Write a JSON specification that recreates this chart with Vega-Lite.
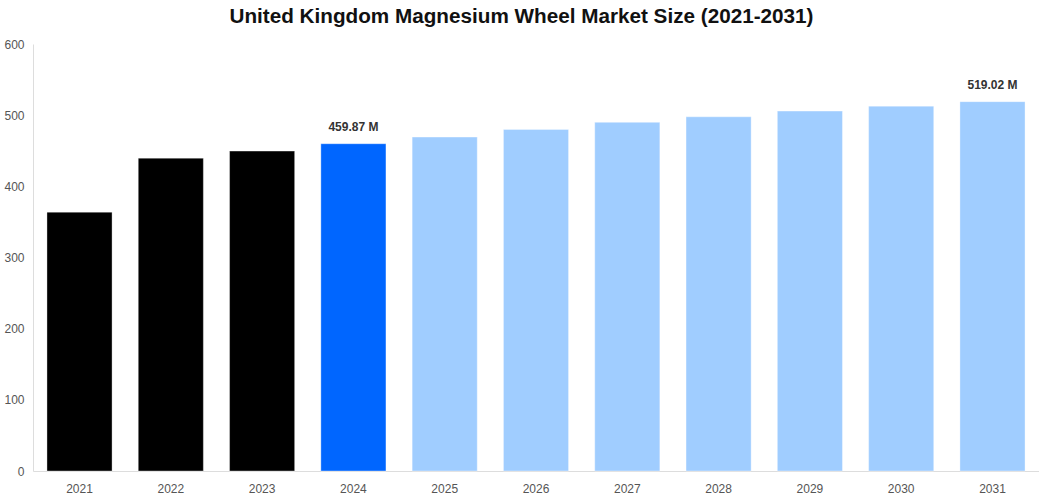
{
  "$schema": "https://vega.github.io/schema/vega-lite/v6.json",
  "width": 1039,
  "height": 500,
  "autosize": {"type": "fit", "contains": "padding"},
  "padding": {"left": 3, "top": 6, "right": 0, "bottom": 6},
  "background": "white",
  "title": {
    "text": "United Kingdom Magnesium Wheel Market Size (2021-2031)",
    "font": "Liberation Sans",
    "fontSize": 20.7,
    "fontWeight": "bold",
    "color": "#111111",
    "offset": 10,
    "frame": "bounds"
  },
  "data": {
    "values": [
      {"year": "2021", "value": 363.7, "kind": "Historical", "label": ""},
      {"year": "2022", "value": 439.6, "kind": "Historical", "label": ""},
      {"year": "2023", "value": 449.5, "kind": "Historical", "label": ""},
      {"year": "2024", "value": 459.87, "kind": "Current", "label": "459.87 M"},
      {"year": "2025", "value": 469.2, "kind": "Forecast", "label": ""},
      {"year": "2026", "value": 480.0, "kind": "Forecast", "label": ""},
      {"year": "2027", "value": 489.9, "kind": "Forecast", "label": ""},
      {"year": "2028", "value": 497.7, "kind": "Forecast", "label": ""},
      {"year": "2029", "value": 505.7, "kind": "Forecast", "label": ""},
      {"year": "2030", "value": 512.7, "kind": "Forecast", "label": ""},
      {"year": "2031", "value": 519.02, "kind": "Forecast", "label": "519.02 M"}
    ]
  },
  "config": {
    "view": {"stroke": null},
    "font": "Liberation Sans"
  },
  "encoding": {
    "x": {
      "field": "year",
      "type": "ordinal",
      "title": null,
      "scale": {"paddingInner": 0.287, "paddingOuter": 0.153},
      "axis": {
        "labelAngle": 0,
        "labelColor": "#555555",
        "labelFontSize": 12,
        "labelPadding": 12,
        "ticks": false,
        "domainColor": "#dddddd",
        "grid": false
      }
    },
    "y": {
      "field": "value",
      "type": "quantitative",
      "title": null,
      "scale": {"domain": [0, 600], "nice": false},
      "axis": {
        "values": [0, 100, 200, 300, 400, 500, 600],
        "labelColor": "#555555",
        "labelFontSize": 12,
        "labelPadding": 9,
        "ticks": false,
        "grid": false,
        "domainColor": "#dddddd"
      }
    }
  },
  "layer": [
    {
      "mark": {"type": "bar", "strokeWidth": 1, "strokeOpacity": 0.35, "stroke": "#ffffff"},
      "encoding": {
        "color": {
          "field": "kind",
          "type": "nominal",
          "scale": {"domain": ["Historical", "Current", "Forecast"], "range": ["#000000", "#0066ff", "#a0cdff"]},
          "legend": null
        }
      }
    },
    {
      "mark": {"type": "text", "dy": -10, "baseline": "bottom", "fontSize": 12, "fontWeight": "bold", "color": "#333333"},
      "encoding": {"text": {"field": "label"}}
    }
  ]
}
